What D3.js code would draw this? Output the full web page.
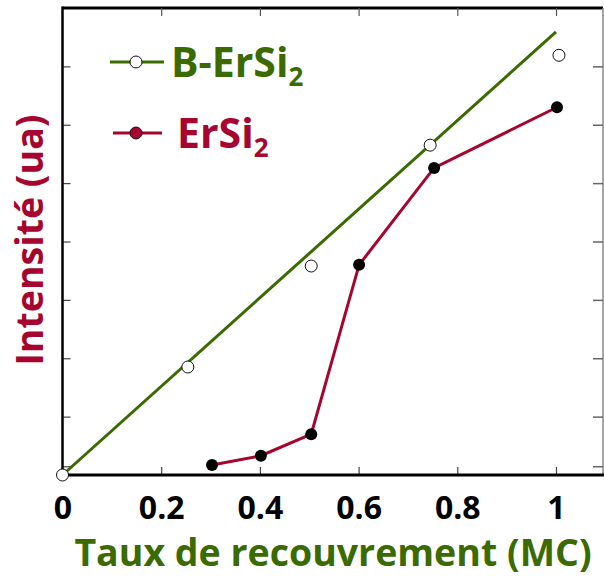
<!DOCTYPE html>
<html>
<head>
<meta charset="utf-8">
<script src="https://cdn.jsdelivr.net/npm/d3@7"></script>
<style>
  html, body { margin: 0; padding: 0; background: #fff; }
  svg { display: block; }
  text { font-family: "Open Sans", "Noto Sans", sans-serif; font-weight: 700; }
</style>
</head>
<body>
<svg id="chart" width="604" height="577"></svg>
<script>
// Coverage (MC) and intensity (a.u.) for the two samples
const coverageB = [0, 0.254, 0.504, 0.745, 1.006];
const intensityB = [0, 1.85, 3.58, 5.65, 7.19];
const fitB = [[0, 0], [1, 7.59]];          // linear trend for B-ErSi2

const coverageE = [0.303, 0.402, 0.504, 0.601, 0.753, 1.002];
const intensityE = [0.17, 0.33, 0.70, 3.60, 5.26, 6.30];

const xTicks = [0, 0.2, 0.4, 0.6, 0.8, 1];
const xTickLabels = ["0", "0.2", "0.4", "0.6", "0.8", "1"];
const yTicks = [0.15, 1, 2, 3, 4, 5, 6, 7];

const seriesNames = ["B-ErSi", "ErSi"];
const xTitle = "Taux de recouvrement (MC)";
const yTitle = "Intensité (ua)";

const GREEN = "#3a6a00";
const RED = "#a5052e";

const svg = d3.select("#chart");
const mLeft = 62.5, mRight = 603, mTop = 8, mBottom = 475;

const x = d3.scaleLinear().domain([0, 1]).range([mLeft, 556]);
const y = d3.scaleLinear().domain([0, 8]).range([mBottom, mTop]);

// frame: top and right
svg.append("line").attr("x1", mLeft).attr("x2", mRight).attr("y1", mTop).attr("y2", mTop)
  .attr("stroke", "#000").attr("stroke-width", 3);
svg.append("line").attr("x1", mRight).attr("x2", mRight).attr("y1", mTop).attr("y2", mBottom)
  .attr("stroke", "#888").attr("stroke-width", 1.5);

// top ticks (inward)
svg.append("g").attr("transform", `translate(0,${mTop})`)
  .call(d3.axisBottom(x).tickValues(xTicks.slice(1)).tickSize(8).tickFormat(""))
  .call(g => g.select(".domain").remove())
  .call(g => g.selectAll("line").attr("stroke", "#555").attr("stroke-width", 1.2));

// right ticks (inward)
svg.append("g").attr("transform", `translate(${mRight},0)`)
  .call(d3.axisLeft(y).tickValues(yTicks).tickSize(10).tickFormat(""))
  .call(g => g.select(".domain").remove())
  .call(g => g.selectAll("line").attr("stroke", "#666").attr("stroke-width", 1.5));

// bottom axis with inward ticks
const xAxis = svg.append("g").attr("transform", `translate(0,${mBottom})`)
  .call(d3.axisTop(x).tickValues(xTicks).tickSize(8).tickFormat((d, i) => xTickLabels[i]));
xAxis.select(".domain").remove();
xAxis.selectAll("line").attr("stroke", "#444").attr("stroke-width", 1.2)
  .filter(d => d === 0).remove();
xAxis.selectAll("text")
  .attr("y", 44).attr("dy", 0)
  .attr("fill", "#000").attr("font-size", 32).attr("font-weight", 700)
  .attr("font-family", "'Open Sans', sans-serif");
svg.append("line").attr("x1", mLeft).attr("x2", mRight + 1).attr("y1", mBottom).attr("y2", mBottom)
  .attr("stroke", "#000").attr("stroke-width", 3);

// left axis with inward ticks
const yAxis = svg.append("g").attr("transform", `translate(${mLeft},0)`)
  .call(d3.axisRight(y).tickValues(yTicks).tickSize(8).tickFormat(""));
yAxis.select(".domain").remove();
yAxis.selectAll("line").attr("stroke", "#444").attr("stroke-width", 1.2);
svg.append("line").attr("x1", mLeft).attr("x2", mLeft).attr("y1", mTop - 1.5).attr("y2", mBottom)
  .attr("stroke", "#000").attr("stroke-width", 2.5);

// B-ErSi2 trend line and ErSi2 polyline
const line = d3.line().x(d => x(d[0])).y(d => y(d[1]));
svg.append("path").datum(fitB).attr("d", line)
  .attr("fill", "none").attr("stroke", GREEN).attr("stroke-width", 3);

const ptsE = coverageE.map((c, i) => [c, intensityE[i]]);
svg.append("path").datum(ptsE).attr("d", line)
  .attr("fill", "none").attr("stroke", RED).attr("stroke-width", 3);

svg.append("g").selectAll("circle")
  .data(coverageB.map((c, i) => [c, intensityB[i]]))
  .join("circle")
  .attr("cx", d => x(d[0])).attr("cy", d => y(d[1])).attr("r", 6)
  .attr("fill", "#fff").attr("stroke", "#111").attr("stroke-width", 1);

svg.append("g").selectAll("circle")
  .data(ptsE)
  .join("circle")
  .attr("cx", d => x(d[0])).attr("cy", d => y(d[1])).attr("r", 6)
  .attr("fill", "#000");

// legend
const legend = [
  { name: seriesNames[0], color: GREEN, ly: 62, x1: 110, x2: 164, tx: 171, ty: 77, fill: "#fff" },
  { name: seriesNames[1], color: RED, ly: 133, x1: 113, x2: 162, tx: 177, ty: 148, fill: RED }
];
legend.forEach(l => {
  svg.append("line").attr("x1", l.x1).attr("x2", l.x2).attr("y1", l.ly).attr("y2", l.ly)
    .attr("stroke", l.color).attr("stroke-width", 3);
  svg.append("circle").attr("cx", 136).attr("cy", l.ly).attr("r", 6)
    .attr("fill", l.fill).attr("stroke", "#111").attr("stroke-width", 1);
  const t = svg.append("text").attr("x", l.tx).attr("y", l.ty)
    .attr("fill", l.color).attr("font-size", 41);
  t.append("tspan").text(l.name);
  t.append("tspan").attr("font-size", 26).attr("dy", 9).text("2");
});

// axis titles
svg.append("text").attr("x", 333).attr("y", 566).attr("text-anchor", "middle")
  .attr("fill", GREEN).attr("font-size", 37.5).text(xTitle);
svg.append("text").attr("transform", "translate(43,240) rotate(-90)")
  .attr("text-anchor", "middle").attr("fill", RED).attr("font-size", 37.5).text(yTitle);
</script>
</body>
</html>
